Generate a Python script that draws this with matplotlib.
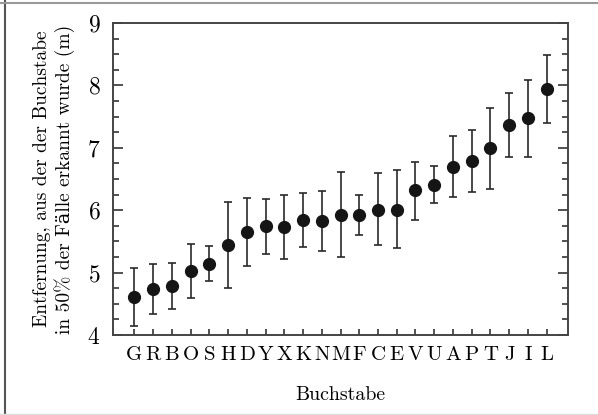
import numpy as np
import matplotlib
matplotlib.use("Agg")
import matplotlib.pyplot as plt
from matplotlib.lines import Line2D
from matplotlib.ticker import MultipleLocator

plt.rcParams['font.family'] = ['cmr10', 'DejaVu Serif']
plt.rcParams['mathtext.fontset'] = 'cm'
plt.rcParams['axes.formatter.use_mathtext'] = True

# letters sorted by recognition distance
letters = ['G', 'R', 'B', 'O', 'S', 'H', 'D', 'Y', 'X', 'K', 'N', 'M', 'F',
           'C', 'E', 'V', 'U', 'A', 'P', 'T', 'J', 'I', 'L']
dist = [4.61, 4.73, 4.79, 5.03, 5.13, 5.44, 5.65, 5.74, 5.73, 5.84, 5.83, 5.93,
        5.93, 6.01, 6.01, 6.32, 6.41, 6.70, 6.79, 6.99, 7.37, 7.48, 7.94]
err_hi = [5.07, 5.13, 5.16, 5.46, 5.42, 6.13, 6.19, 6.18, 6.25, 6.28, 6.30, 6.62,
          6.24, 6.59, 6.65, 6.78, 6.71, 7.19, 7.29, 7.64, 7.88, 8.09, 8.49]
err_lo = [4.15, 4.33, 4.42, 4.60, 4.87, 4.75, 5.10, 5.30, 5.21, 5.41, 5.35, 5.25,
          5.60, 5.45, 5.39, 5.85, 6.12, 6.21, 6.29, 6.34, 6.86, 6.86, 7.40]

dist = np.array(dist)
yerr = [dist - np.array(err_lo), np.array(err_hi) - dist]
x = np.arange(len(letters))

fig = plt.figure(figsize=(5.98, 4.15), dpi=100)
ax = fig.add_axes([113/598, 1 - 335/415, (568-113)/598, (335-23)/415])

ax.errorbar(x, dist, yerr=yerr, fmt='o', color='#151515', ecolor='#2a2a2a',
            ms=8.5, elinewidth=1.2, capsize=3.2, capthick=1.2)

ax.set_xlim(-1.14, len(letters) - 1 + 1.14)
ax.set_ylim(4, 9)
ax.set_xticks(x)
ax.set_xticklabels(letters, fontsize=15)
ax.yaxis.set_major_locator(MultipleLocator(1))
ax.yaxis.set_minor_locator(MultipleLocator(0.25))
ax.tick_params(axis='y', which='major', direction='in', length=7.5, width=1.2,
               right=True, labelsize=17, pad=9, color='#333333')
ax.tick_params(axis='y', which='minor', direction='in', length=4.5, width=1.2,
               right=True, color='#333333')
ax.tick_params(axis='x', direction='in', length=4, width=1.2, top=False,
               pad=8, color='#333333')
for s in ax.spines.values():
    s.set_linewidth(1.4)
    s.set_color('#444444')

ax.set_xlabel('Buchstabe', fontsize=14.3, labelpad=16)
ax.set_ylabel('Entfernung, aus der der Buchstabe\nin 50% der Fälle erkannt wurde (m)',
              fontsize=14, labelpad=9, linespacing=1.15)

# frame around the figure
fig.add_artist(Line2D([5/598, 5/598], [0, 1], transform=fig.transFigure,
                      color='#555555', lw=1.5))
fig.add_artist(Line2D([0, 1], [1 - 3/415, 1 - 3/415], transform=fig.transFigure,
                      color='#999999', lw=1.5))
fig.add_artist(Line2D([0, 1], [1/415, 1/415], transform=fig.transFigure,
                      color='#dddddd', lw=1))

fig.savefig('out.png', dpi=100)
